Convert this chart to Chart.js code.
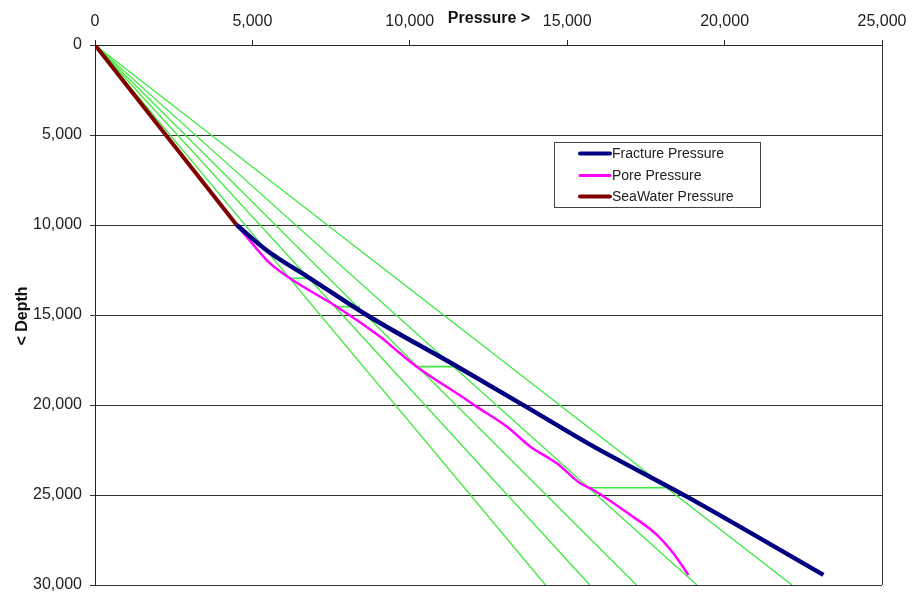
<!DOCTYPE html>
<html>
<head>
<meta charset="utf-8">
<script src="https://cdn.jsdelivr.net/npm/chart.js@4/dist/chart.umd.min.js"></script>
<style>
  html, body { margin: 0; padding: 0; background: #fff; }
  #wrap { width: 912px; height: 597px; position: relative; }
</style>
</head>
<body>
<div id="wrap"><canvas id="c" width="912" height="597"></canvas></div>
<script>
// ---- data (pressure in psi, depth in ft) ----
const xTicks = [0, 5000, 10000, 15000, 20000, 25000];
const yTicks = [0, 5000, 10000, 15000, 20000, 25000, 30000];

const seaPressure = [0, 4500];
const seaDepth    = [0, 10000];

const fracPressure = [4500, 5450, 6830, 8630, 11490, 13660, 15830, 18800, 23140];
const fracDepth    = [10000, 11400, 12960, 15000, 17850, 20060, 22300, 25090, 29440];

const porePressure = [4500, 5080, 5500, 6190, 7680, 9050, 9690, 10220, 11810, 12120, 13080, 13820, 14670, 15410, 15830, 17000, 17840, 18370, 18850];
const poreDepth    = [10000, 11200, 12040, 12960, 14540, 16200, 17130, 17870, 19720, 20090, 21200, 22300, 23240, 24350, 24720, 26100, 27200, 28240, 29440];

// mud-weight fan lines from surface to TD
const fanEndPressure = [14310, 15720, 17200, 19120, 22140];
const fanEndDepth = 30000;

// casing-seat connectors (pore -> fracture)
const seatDepth     = [12960, 14540, 17870, 24600];
const seatFromPress = [6190, 7680, 10220, 15720];
const seatToPress   = [6830, 8420, 11490, 18130];

const legendNames = ['Fracture Pressure', 'Pore Pressure', 'SeaWater Pressure'];
const legendColors = ['#000080', '#ff00ff', '#800000'];
const legendWidths = [4, 3, 4];

// ---- build datasets ----
const pts = (xs, ys) => xs.map((x, i) => ({ x: x, y: ys[i] }));
const datasets = [
  { label: legendNames[0], data: pts(fracPressure, fracDepth), borderColor: legendColors[0], borderWidth: 4.5, tension: 0.3, cubicInterpolationMode: 'monotone' },
  { label: legendNames[1], data: pts(porePressure, poreDepth), borderColor: legendColors[1], borderWidth: 2.5, tension: 0.3, cubicInterpolationMode: 'monotone' },
  { label: legendNames[2], data: pts(seaPressure, seaDepth), borderColor: legendColors[2], borderWidth: 4 }
];
fanEndPressure.forEach(p => datasets.push({
  label: 'fan', data: [{ x: 0, y: 0 }, { x: p, y: fanEndDepth }], borderColor: '#3ee83e', borderWidth: 1.3
}));
seatDepth.forEach((d, i) => datasets.push({
  label: 'seat', data: [{ x: seatFromPress[i], y: d }, { x: seatToPress[i], y: d }], borderColor: '#3ee83e', borderWidth: 1.6
}));
datasets.forEach(ds => { ds.showLine = true; ds.pointRadius = 0; ds.fill = false; ds.pointHoverRadius = 0; });

const fmt = v => Number(v).toLocaleString('en-US');
const FONT = '"Liberation Sans", Arial, sans-serif';

const decor = {
  id: 'decor',
  afterDraw(chart) {
    const ctx = chart.ctx;
    const a = chart.chartArea;
    ctx.save();
    // right frame line
    ctx.strokeStyle = '#333';
    ctx.lineWidth = 1;
    ctx.beginPath();
    ctx.moveTo(Math.round(a.right) + 0.5, a.top);
    ctx.lineTo(Math.round(a.right) + 0.5, a.bottom);
    ctx.stroke();
    // axis titles
    ctx.fillStyle = '#111';
    ctx.font = 'bold 16px ' + FONT;
    ctx.textAlign = 'center';
    ctx.textBaseline = 'alphabetic';
    ctx.fillText('Pressure >', 489, 23);
    ctx.save();
    ctx.translate(27, 316);
    ctx.rotate(-Math.PI / 2);
    ctx.fillText('< Depth', 0, 0);
    ctx.restore();
    // legend box
    const bx = 554.5, by = 142.5, bw = 206, bh = 65;
    ctx.fillStyle = '#fff';
    ctx.fillRect(bx, by, bw, bh);
    ctx.strokeStyle = '#444';
    ctx.lineWidth = 1;
    ctx.strokeRect(bx, by, bw, bh);
    const rows = [153.5, 175.5, 196.5];
    ctx.font = '14px ' + FONT;
    ctx.textAlign = 'left';
    ctx.textBaseline = 'middle';
    legendNames.forEach((n, i) => {
      ctx.strokeStyle = legendColors[i];
      ctx.lineWidth = legendWidths[i];
      ctx.lineCap = 'round';
      ctx.beginPath();
      ctx.moveTo(580, rows[i]);
      ctx.lineTo(610, rows[i]);
      ctx.stroke();
      ctx.fillStyle = '#222';
      ctx.fillText(n, 612, rows[i] + 0.5);
    });
    ctx.restore();
  }
};

new Chart(document.getElementById('c'), {
  type: 'scatter',
  data: { datasets: datasets },
  options: {
    responsive: false,
    animation: false,
    events: [],
    layout: { padding: { left: 0, top: 0, right: 30, bottom: 12 } },
    plugins: { legend: { display: false }, tooltip: { enabled: false }, title: { display: false } },
    scales: {
      x: {
        type: 'linear', position: 'top', min: 0, max: 25000,
        afterFit: s => { s.height = 45; s.paddingLeft = 0; s.paddingRight = 0; },
        afterBuildTicks: s => { s.ticks = xTicks.map(v => ({ value: v })); },
        ticks: { callback: fmt, font: { size: 16, family: FONT }, color: '#222', padding: 9, maxRotation: 0 },
        grid: { drawOnChartArea: false, drawTicks: true, tickLength: 5, color: '#222' },
        border: { display: true, color: '#222', width: 1 }
      },
      y: {
        type: 'linear', position: 'left', reverse: true, min: 0, max: 30000,
        afterFit: s => { s.width = 95; s.paddingTop = 0; s.paddingBottom = 0; },
        afterBuildTicks: s => { s.ticks = yTicks.map(v => ({ value: v })); },
        ticks: { callback: fmt, font: { size: 16, family: FONT }, color: '#222', padding: 8 },
        grid: { drawOnChartArea: true, drawTicks: true, tickLength: 5, color: '#333', lineWidth: 1 },
        border: { display: true, color: '#222', width: 1 }
      }
    }
  },
  plugins: [decor]
});
</script>
</body>
</html>
